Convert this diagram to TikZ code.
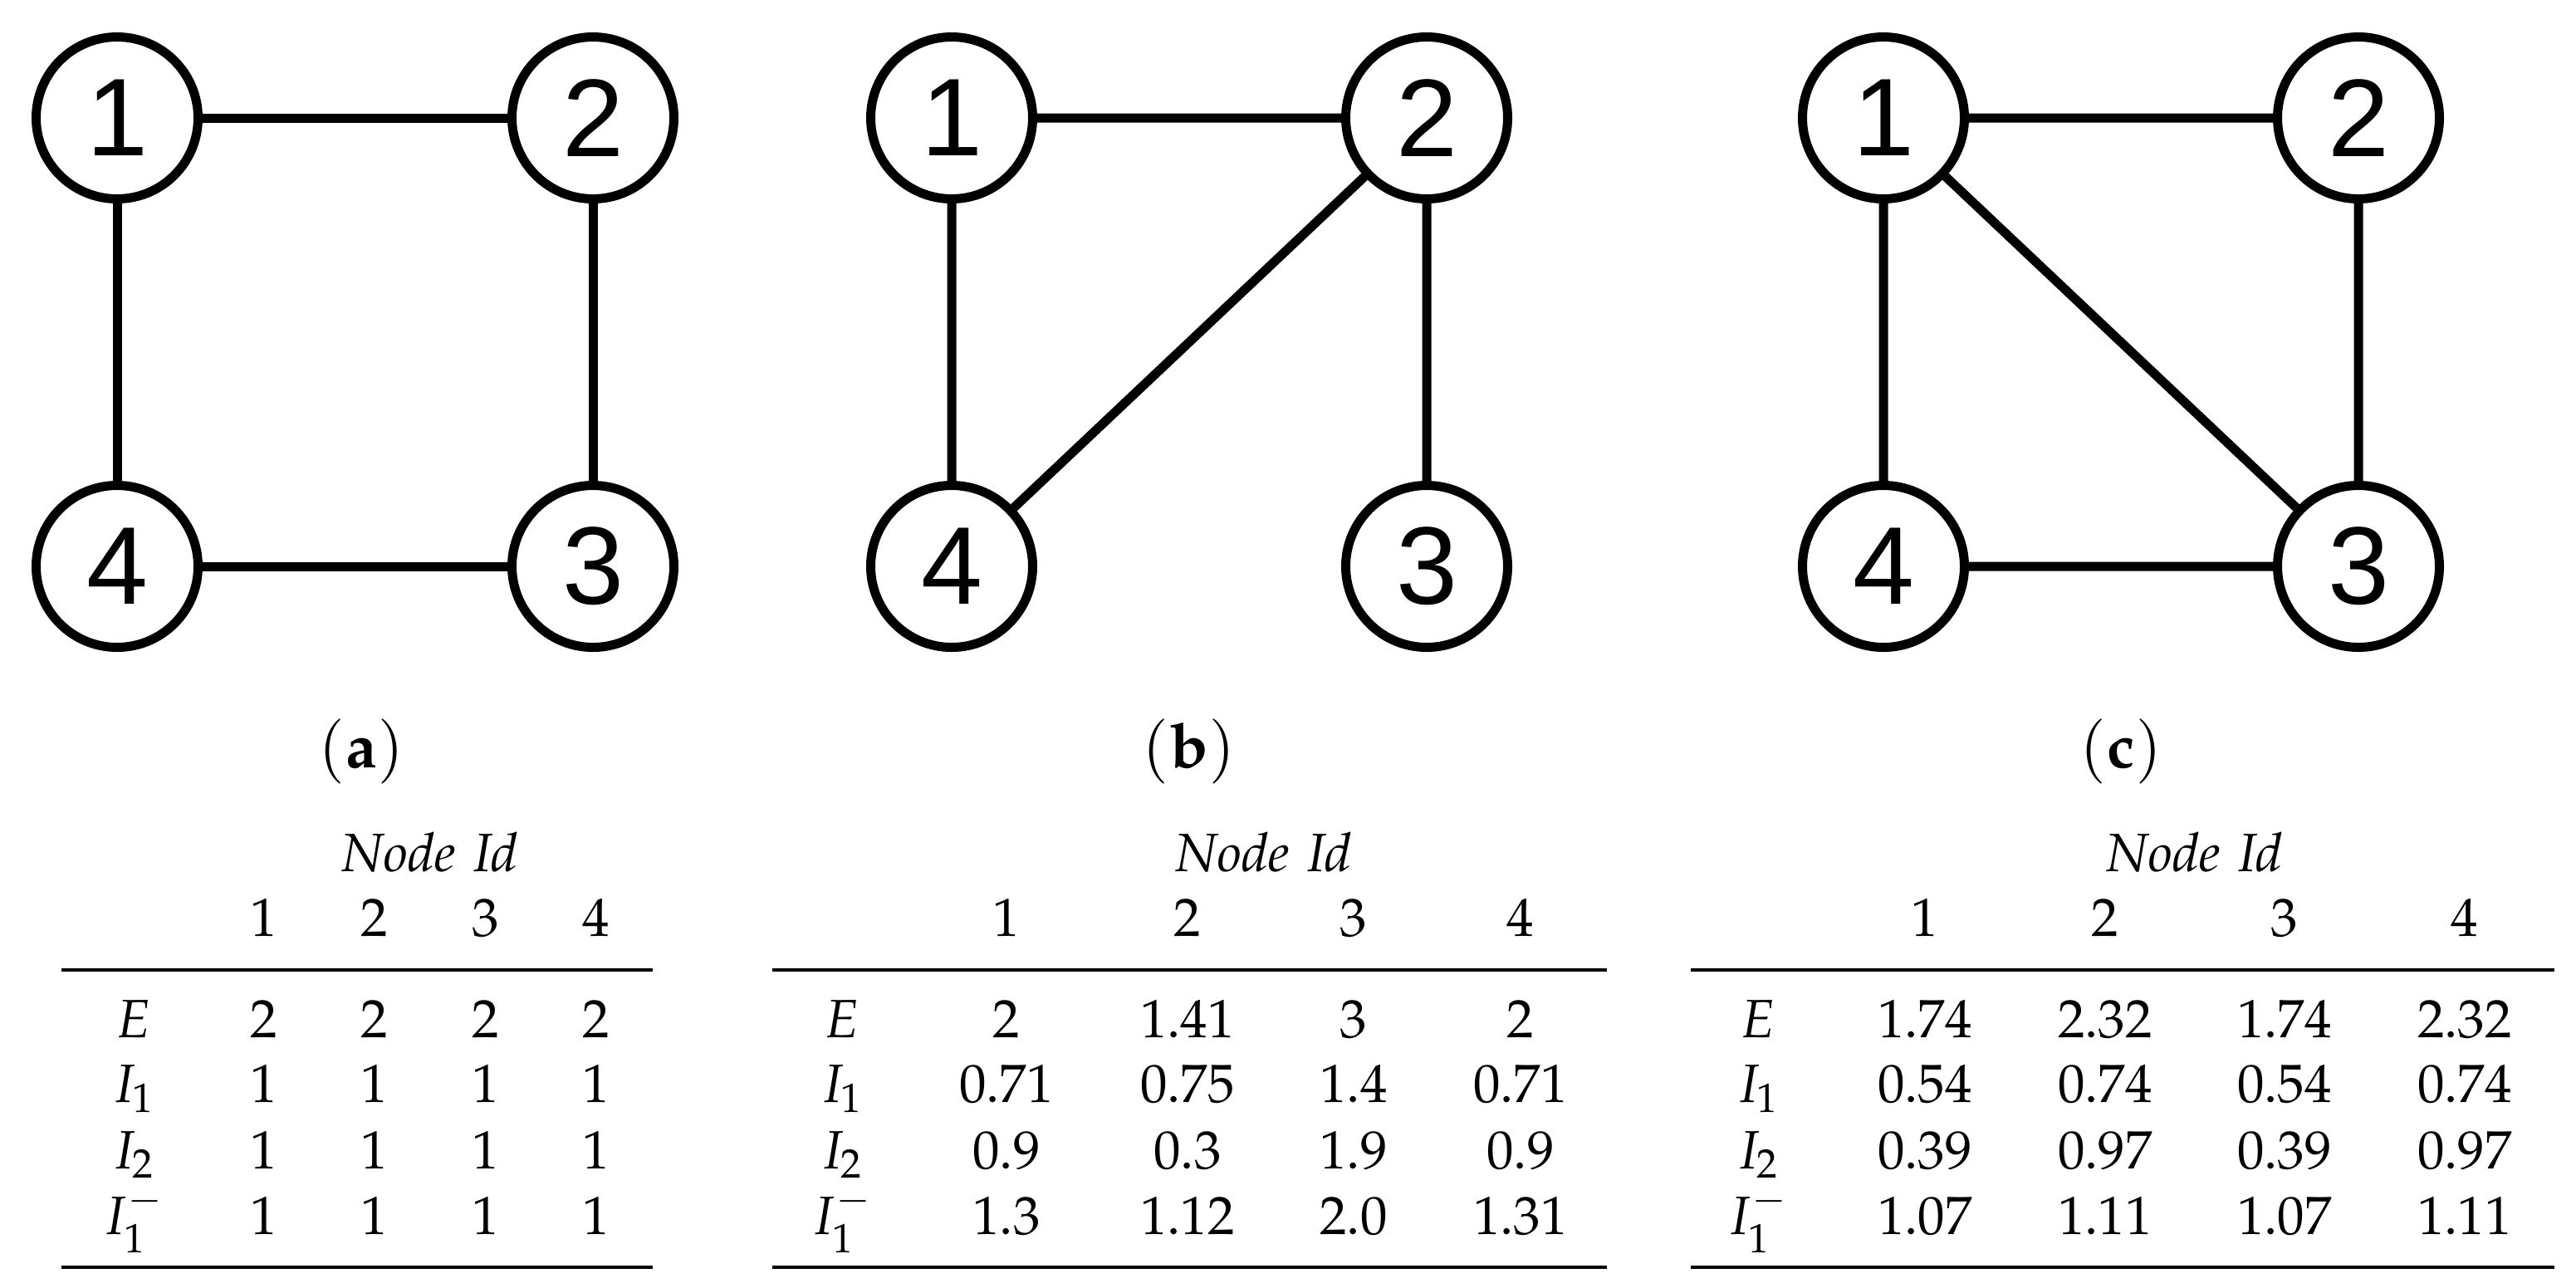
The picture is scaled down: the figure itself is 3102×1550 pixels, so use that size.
\documentclass[tikz,border=0pt]{standalone}
\usepackage{mathpazo}
\usepackage[no-math]{fontspec}
\newfontfamily\arialfont{Liberation Sans}
\begin{document}
\begin{tikzpicture}[x=0.2pt,y=-0.2pt,
  gnode/.style={circle,draw,line width=2.2pt,minimum size=39pt,inner sep=0pt,
    font=\arialfont\fontsize{26.6}{30}\selectfont},
  edge/.style={line width=2.2pt},
  cell/.style={anchor=base,inner sep=0pt,font=\fontsize{13}{15}\selectfont},
  captxt/.style={anchor=base,inner sep=0pt,font=\fontsize{15}{18}\selectfont},
  trule/.style={line width=0.9pt}]
\useasboundingbox (0,0) rectangle (3102,1550);

% ---------- panel (a)
\node[gnode] (a1) at (141,142) {1};
\node[gnode] (a2) at (714,142) {2};
\node[gnode] (a3) at (714,682) {3};
\node[gnode] (a4) at (141,682) {4};
\draw[edge] (a1)--(a2) (a2)--(a3) (a3)--(a4) (a4)--(a1);
\node[captxt] (capa) at (435,924) {$(\mathbf{a})$};

% ---------- panel (b)
\node[gnode] (b1) at (1146,142) {1};
\node[gnode] (b2) at (1718,142) {2};
\node[gnode] (b3) at (1718,682) {3};
\node[gnode] (b4) at (1146,682) {4};
\draw[edge] (b1)--(b2) (b1)--(b4) (b2)--(b3) (b2)--(b4);
\node[captxt] (capb) at (1432,924) {$(\mathbf{b})$};

% ---------- panel (c)
\node[gnode] (c1) at (2268,142) {1};
\node[gnode] (c2) at (2840,142) {2};
\node[gnode] (c3) at (2840,682) {3};
\node[gnode] (c4) at (2268,682) {4};
\draw[edge] (c1)--(c2) (c1)--(c4) (c2)--(c3) (c4)--(c3) (c1)--(c3);
\node[captxt] (capc) at (2554,924) {$(\mathbf{c})$};

% ---------- table (a)
\node[cell] (ta-id) at (518,1049) {$\mathit{Node\ Id}$};
\foreach \x/\v [count=\i] in {318/1,451/2,585/3,718/4} \node[cell] (ta-h\i) at (\x,1127) {$\v$};
\coordinate (ta-tl) at (74,1168); \coordinate (ta-tr) at (786,1168);
\coordinate (ta-bl) at (74,1526); \coordinate (ta-br) at (786,1526);
\draw[trule] (ta-tl)--(ta-tr); \draw[trule] (ta-bl)--(ta-br);
\node[cell] (ta-lE) at (161,1249) {$E$};
\node[cell] (ta-l1) at (161,1327) {$I_1$};
\node[cell] (ta-l2) at (161,1407) {$I_2$};
\node[cell] (ta-lm) at (161,1486) {$I_1^-$};
\foreach \x/\v [count=\i] in {318/2,451/2,585/2,718/2} \node[cell] (ta-E\i) at (\x,1249) {$\v$};
\foreach \x/\v [count=\i] in {318/1,451/1,585/1,718/1} \node[cell] (ta-A\i) at (\x,1327) {$\v$};
\foreach \x/\v [count=\i] in {318/1,451/1,585/1,718/1} \node[cell] (ta-B\i) at (\x,1407) {$\v$};
\foreach \x/\v [count=\i] in {318/1,451/1,585/1,718/1} \node[cell] (ta-C\i) at (\x,1486) {$\v$};

% ---------- table (b)
\node[cell] (tb-id) at (1522,1049) {$\mathit{Node\ Id}$};
\foreach \x/\v [count=\i] in {1212/1,1430/2,1630/3,1831/4} \node[cell] (tb-h\i) at (\x,1127) {$\v$};
\coordinate (tb-tl) at (930,1168); \coordinate (tb-tr) at (1935,1168);
\coordinate (tb-bl) at (930,1526); \coordinate (tb-br) at (1935,1526);
\draw[trule] (tb-tl)--(tb-tr); \draw[trule] (tb-bl)--(tb-br);
\node[cell] (tb-lE) at (1014,1249) {$E$};
\node[cell] (tb-l1) at (1014,1327) {$I_1$};
\node[cell] (tb-l2) at (1014,1407) {$I_2$};
\node[cell] (tb-lm) at (1014,1486) {$I_1^-$};
\foreach \x/\v [count=\i] in {1212/2,1430/1.41,1630/3,1831/2} \node[cell] (tb-E\i) at (\x,1249) {$\v$};
\foreach \x/\v [count=\i] in {1212/0.71,1430/0.75,1630/1.4,1831/0.71} \node[cell] (tb-A\i) at (\x,1327) {$\v$};
\foreach \x/\v [count=\i] in {1212/0.9,1430/0.3,1630/1.9,1831/0.9} \node[cell] (tb-B\i) at (\x,1407) {$\v$};
\foreach \x/\v [count=\i] in {1212/1.3,1430/1.12,1630/2.0,1831/1.31} \node[cell] (tb-C\i) at (\x,1486) {$\v$};

% ---------- table (c)
\node[cell] (tc-id) at (2643,1049) {$\mathit{Node\ Id}$};
\foreach \x/\v [count=\i] in {2318/1,2535/2,2751/3,2968/4} \node[cell] (tc-h\i) at (\x,1127) {$\v$};
\coordinate (tc-tl) at (2036,1168); \coordinate (tc-tr) at (3076,1168);
\coordinate (tc-bl) at (2036,1526); \coordinate (tc-br) at (3076,1526);
\draw[trule] (tc-tl)--(tc-tr); \draw[trule] (tc-bl)--(tc-br);
\node[cell] (tc-lE) at (2117,1249) {$E$};
\node[cell] (tc-l1) at (2117,1327) {$I_1$};
\node[cell] (tc-l2) at (2117,1407) {$I_2$};
\node[cell] (tc-lm) at (2117,1486) {$I_1^-$};
\foreach \x/\v [count=\i] in {2318/1.74,2535/2.32,2751/1.74,2968/2.32} \node[cell] (tc-E\i) at (\x,1249) {$\v$};
\foreach \x/\v [count=\i] in {2318/0.54,2535/0.74,2751/0.54,2968/0.74} \node[cell] (tc-A\i) at (\x,1327) {$\v$};
\foreach \x/\v [count=\i] in {2318/0.39,2535/0.97,2751/0.39,2968/0.97} \node[cell] (tc-B\i) at (\x,1407) {$\v$};
\foreach \x/\v [count=\i] in {2318/1.07,2535/1.11,2751/1.07,2968/1.11} \node[cell] (tc-C\i) at (\x,1486) {$\v$};
\end{tikzpicture}
\end{document}
